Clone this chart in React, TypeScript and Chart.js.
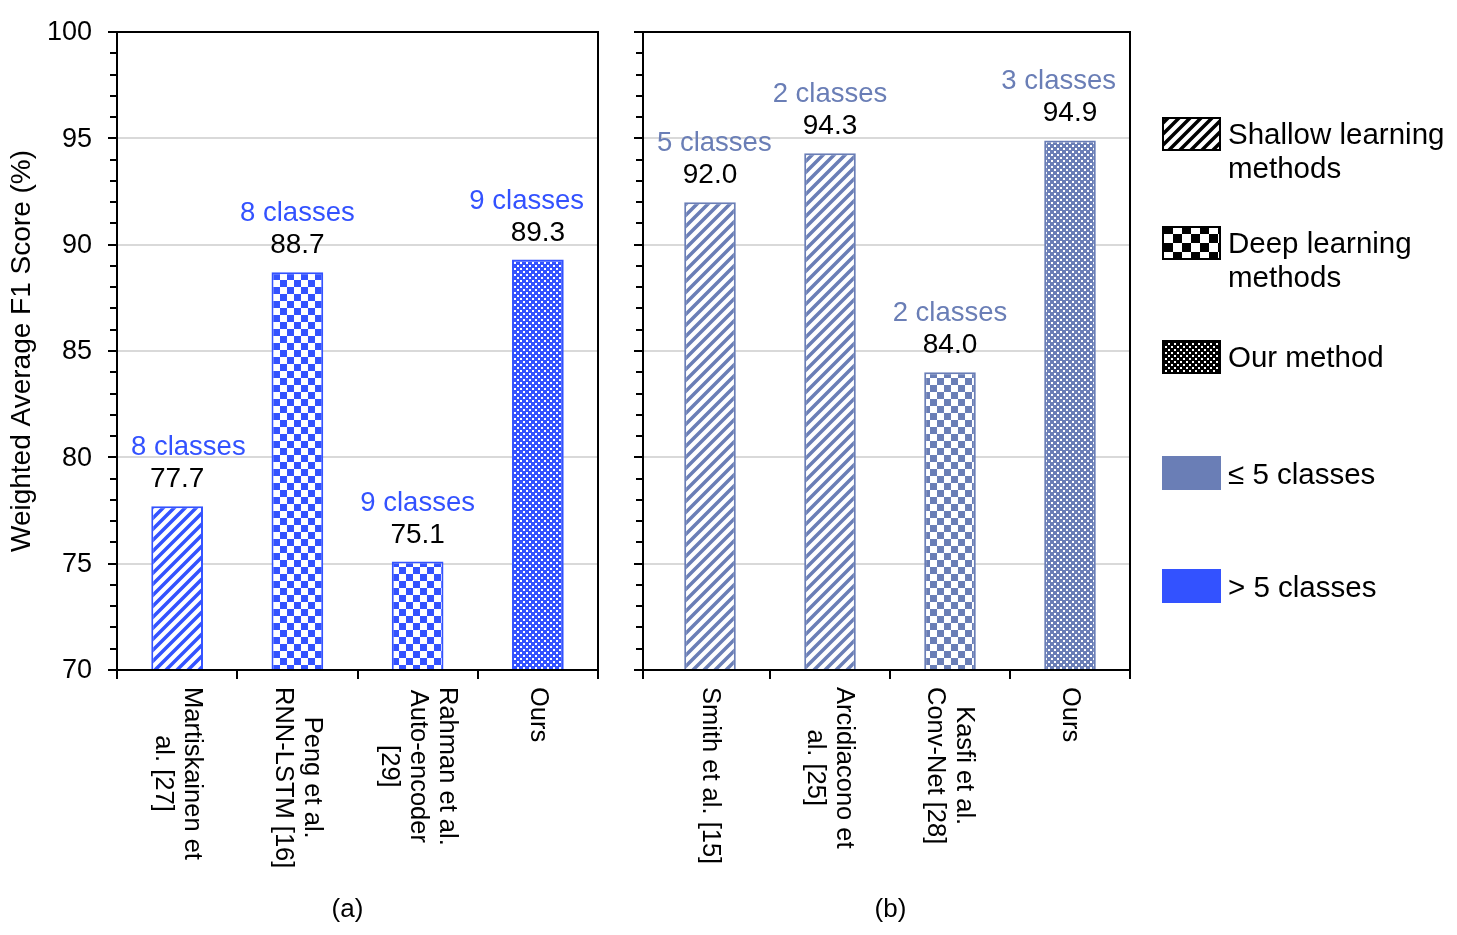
import React, { useEffect, useRef } from "react";
import { Chart, registerables } from "chart.js";

Chart.register(...registerables);

const FONT = '"Liberation Sans", Arial, Helvetica, sans-serif';

// ---------- data ----------
const categoriesA: string[][] = [
  ["Martiskainen et", "al. [27]"],
  ["Peng et al.", "RNN-LSTM [16]"],
  ["Rahman et al.", "Auto-encoder", "[29]"],
  ["Ours"],
];
const valuesA = [77.7, 88.7, 75.1, 89.3];
const classCountA = [8, 8, 9, 9];
const methodA = ["shallow", "deep", "deep", "ours"];

const categoriesB: string[][] = [
  ["Smith et al. [15]"],
  ["Arcidiacono et", "al. [25]"],
  ["Kasfi et al.", "Conv-Net [28]"],
  ["Ours"],
];
const valuesB = [92.0, 94.3, 84.0, 94.9];
const classCountB = [5, 2, 2, 3];
const methodB = ["shallow", "shallow", "deep", "ours"];

const yMin = 70;
const yMax = 100;
const yMajorTicks = [70, 75, 80, 85, 90, 95, 100];
const yMinorStep = 1;
const yTitle = "Weighted Average F1 Score (%)";
const panelLabels = ["(a)", "(b)"];

const legendMethods = [
  { kind: "shallow", lines: ["Shallow learning", "methods"] },
  { kind: "deep", lines: ["Deep learning", "methods"] },
  { kind: "ours", lines: ["Our method"] },
];
const legendClasses = [
  { few: true, text: "≤ 5 classes" },
  { few: false, text: "> 5 classes" },
];

// ---------- styles ----------
const BLUE = "#3352FF";
const SLATE = "#6A7EB6";
const GRID = "#d9d9d9";
const colorFor = (n: number) => (n > 5 ? BLUE : SLATE);

function makePattern(kind: string, color: string, legend = false): CanvasPattern {
  const c = document.createElement("canvas");
  let s = 6;
  if (kind === "shallow") s = 11;
  else if (kind === "deep") s = legend ? 18 : 14;
  c.width = s;
  c.height = s;
  const g = c.getContext("2d")!;
  if (kind === "shallow") {
    g.fillStyle = "#fff";
    g.fillRect(0, 0, s, s);
    g.strokeStyle = color;
    g.lineWidth = 3.5;
    g.beginPath();
    for (let k = -1; k <= 1; k++) {
      g.moveTo(k * s - 3, s + 3);
      g.lineTo(k * s + s + 3, -3);
    }
    g.stroke();
  } else if (kind === "deep") {
    const h = s / 2;
    g.fillStyle = "#fff";
    g.fillRect(0, 0, s, s);
    g.fillStyle = color;
    g.fillRect(0, 0, h, h);
    g.fillRect(h, h, h, h);
  } else {
    g.fillStyle = color;
    g.fillRect(0, 0, s, s);
    g.fillStyle = "#fff";
    g.fillRect(1, 1, 2, 2);
    g.fillRect(4, 4, 2, 2);
  }
  return g.createPattern(c, "repeat")!;
}

type PanelCfg = {
  categories: string[][];
  values: number[];
  classCounts: number[];
  methods: string[];
  padding: { left: number; right: number; top: number; bottom: number };
  spineShift: number;
  showYLabels: boolean;
  panelLabel: string;
  panelLabelShift: number;
  legendOffsetX: number | null;
};

function makePlugin(cfg: PanelCfg) {
  return {
    id: "customPanel",
    beforeDatasetsDraw(chart: any) {
      const { ctx, chartArea } = chart;
      const ys = chart.scales.y;
      ctx.save();
      ctx.strokeStyle = GRID;
      ctx.lineWidth = 2;
      for (const v of yMajorTicks) {
        if (v === yMin || v === yMax) continue;
        const y = Math.round(ys.getPixelForValue(v));
        ctx.beginPath();
        ctx.moveTo(chartArea.left - cfg.spineShift, y);
        ctx.lineTo(chartArea.right, y);
        ctx.stroke();
      }
      ctx.restore();
    },
    afterDatasetsDraw(chart: any) {
      const { ctx, chartArea } = chart;
      const { left, right, top, bottom } = chartArea;
      const spine = left - cfg.spineShift;
      const ys = chart.scales.y;
      const xs = chart.scales.x;
      ctx.save();
      // frame
      ctx.strokeStyle = "#000";
      ctx.lineWidth = 2;
      ctx.strokeRect(spine, top, right - spine, bottom - top);
      // y ticks
      for (let v = yMin; v <= yMax; v += yMinorStep) {
        const y = Math.round(ys.getPixelForValue(v));
        const major = yMajorTicks.includes(v);
        ctx.beginPath();
        ctx.moveTo(spine - (major ? 9 : 7), y);
        ctx.lineTo(spine, y);
        ctx.stroke();
      }
      // x ticks at category boundaries
      const n = cfg.values.length;
      const cw = (right - left) / n;
      for (let i = 0; i <= n; i++) {
        const x = i === 0 ? spine : Math.round(left + i * cw);
        ctx.beginPath();
        ctx.moveTo(x, bottom);
        ctx.lineTo(x, bottom + 9);
        ctx.stroke();
      }
      // y tick labels + title
      if (cfg.showYLabels) {
        ctx.fillStyle = "#000";
        ctx.font = `27px ${FONT}`;
        ctx.textAlign = "right";
        ctx.textBaseline = "middle";
        for (const v of yMajorTicks) {
          ctx.fillText(String(v), spine - 25, ys.getPixelForValue(v) + 1);
        }
        ctx.save();
        ctx.translate(22, (top + bottom) / 2);
        ctx.rotate(-Math.PI / 2);
        ctx.textAlign = "center";
        ctx.font = `28px ${FONT}`;
        ctx.fillText(yTitle, 0, 0);
        ctx.restore();
      }
      // x category labels (rotated clockwise)
      ctx.fillStyle = "#000";
      ctx.font = `25.5px ${FONT}`;
      const lh = 29;
      cfg.categories.forEach((lines, i) => {
        const cx = xs.getPixelForValue(i);
        const maxW = Math.max(...lines.map((l) => ctx.measureText(l).width));
        ctx.save();
        ctx.translate(cx, bottom + 17);
        ctx.rotate(Math.PI / 2);
        ctx.textAlign = "center";
        ctx.textBaseline = "middle";
        lines.forEach((l, j) => {
          const yy = (j - (lines.length - 1) / 2) * lh;
          ctx.fillText(l, maxW / 2, yy);
        });
        ctx.restore();
      });
      // value labels and class labels
      const meta = chart.getDatasetMeta(0);
      meta.data.forEach((bar: any, i: number) => {
        const bx = bar.x;
        const by = bar.y;
        ctx.textAlign = "center";
        ctx.textBaseline = "alphabetic";
        ctx.fillStyle = "#000";
        ctx.font = `28px ${FONT}`;
        ctx.fillText(cfg.values[i].toFixed(1), bx, by - 19);
        const txt = `${cfg.classCounts[i]} classes`;
        ctx.font = `27.5px ${FONT}`;
        const w = ctx.measureText(txt).width;
        const pad = 14;
        const cx = Math.min(Math.max(bx, spine + pad + w / 2), right - pad - w / 2);
        ctx.fillStyle = colorFor(cfg.classCounts[i]);
        ctx.fillText(txt, cx, by - 51);
      });
      // panel label
      ctx.fillStyle = "#000";
      ctx.font = `26px ${FONT}`;
      ctx.textAlign = "center";
      ctx.textBaseline = "middle";
      ctx.fillText(cfg.panelLabel, (spine + right) / 2 + cfg.panelLabelShift, 910);

      // legend
      if (cfg.legendOffsetX !== null) {
        const ox = cfg.legendOffsetX;
        const sx = 1162 - ox;
        const sw = 59;
        const sh = 34;
        const tx = 1228 - ox;
        const tops = [117, 226, 340, 456, 569];
        ctx.font = `29.5px ${FONT}`;
        ctx.textAlign = "left";
        ctx.textBaseline = "middle";
        legendMethods.forEach((item, k) => {
          const t = tops[k];
          ctx.fillStyle = makePattern(item.kind, "#000", true);
          ctx.fillRect(sx, t, sw, sh);
          ctx.strokeStyle = "#000";
          ctx.lineWidth = 2;
          ctx.strokeRect(sx + 1, t + 1, sw - 2, sh - 2);
          ctx.fillStyle = "#000";
          item.lines.forEach((l, j) => ctx.fillText(l, tx, t + sh / 2 + 2 + j * 34));
        });
        legendClasses.forEach((item, k) => {
          const t = tops[3 + k];
          ctx.fillStyle = item.few ? SLATE : BLUE;
          ctx.fillRect(sx, t, sw, sh);
          ctx.fillStyle = "#000";
          ctx.fillText(item.text, tx, t + sh / 2 + 3);
        });
      }
      ctx.restore();
    },
  };
}

function buildChart(canvas: HTMLCanvasElement, cfg: PanelCfg) {
  const colors = cfg.classCounts.map(colorFor);
  const patterns = cfg.methods.map((m, i) => makePattern(m, colors[i]));
  return new Chart(canvas, {
    type: "bar",
    data: {
      labels: cfg.categories.map((l) => l.join(" ")),
      datasets: [
        {
          data: cfg.values,
          backgroundColor: patterns as any,
          borderColor: colors,
          borderWidth: 2,
          barPercentage: 0.43,
          categoryPercentage: 1,
        },
      ],
    },
    options: {
      responsive: false,
      animation: false,
      devicePixelRatio: 1,
      layout: { padding: cfg.padding },
      plugins: {
        legend: { display: false },
        tooltip: { enabled: false },
        title: { display: false },
      },
      scales: {
        x: { display: false },
        y: { display: false, min: yMin, max: yMax },
      },
    },
    plugins: [makePlugin(cfg) as any],
  });
}

const W_A = 615;
const W_B = 1457 - W_A;
const H = 935;

export default function App() {
  const refA = useRef<HTMLCanvasElement>(null);
  const refB = useRef<HTMLCanvasElement>(null);

  useEffect(() => {
    const a = buildChart(refA.current!, {
      categories: categoriesA,
      values: valuesA,
      classCounts: classCountA,
      methods: methodA,
      padding: { left: 117, right: W_A - 598, top: 32, bottom: H - 670 },
      spineShift: 0,
      showYLabels: true,
      panelLabel: panelLabels[0],
      panelLabelShift: -10,
      legendOffsetX: null,
    });
    const b = buildChart(refB.current!, {
      categories: categoriesB,
      values: valuesB,
      classCounts: classCountB,
      methods: methodB,
      padding: { left: 650 - W_A, right: W_B - (1130 - W_A), top: 32, bottom: H - 670 },
      spineShift: 7,
      showYLabels: false,
      panelLabel: panelLabels[1],
      panelLabelShift: 4,
      legendOffsetX: W_A,
    });
    return () => {
      a.destroy();
      b.destroy();
    };
  }, []);

  return (
    <div style={{ position: "absolute", left: 0, top: 0, width: 1457, height: H, background: "#fff" }}>
      <canvas ref={refA} width={W_A} height={H} style={{ position: "absolute", left: 0, top: 0 }} />
      <canvas ref={refB} width={W_B} height={H} style={{ position: "absolute", left: W_A, top: 0 }} />
    </div>
  );
}
